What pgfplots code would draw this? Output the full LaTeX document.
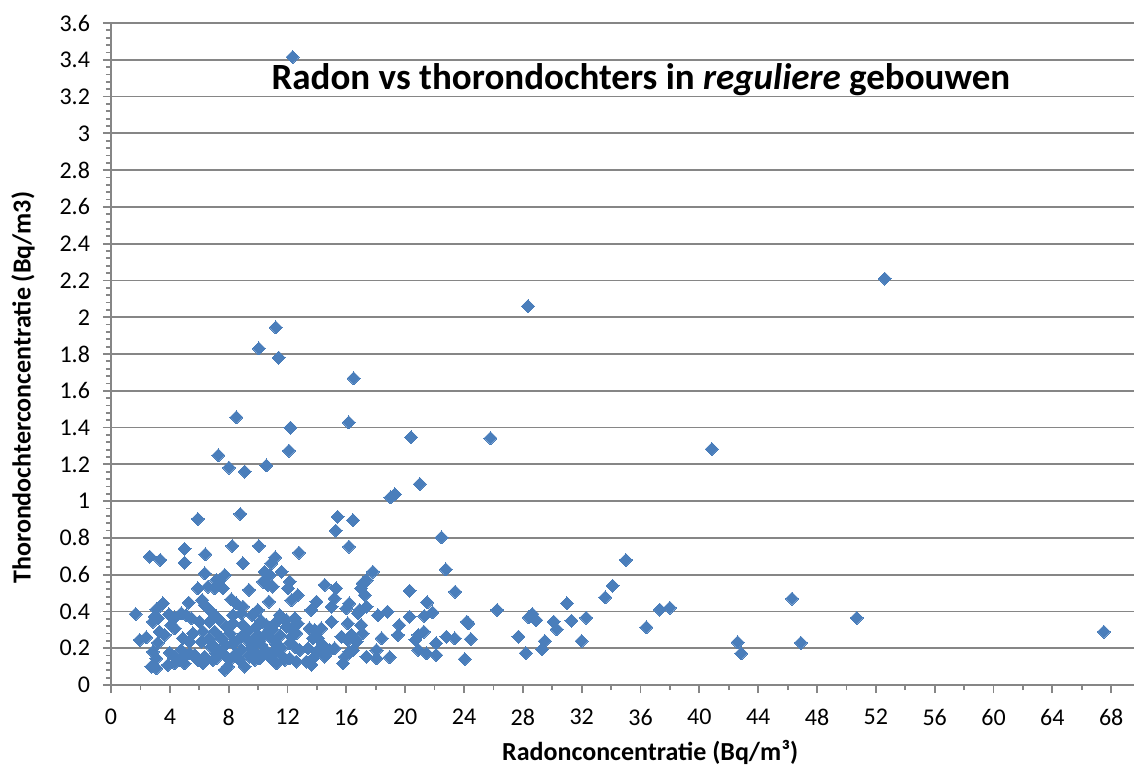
\documentclass[border=0pt]{standalone}
\usepackage{pgfplots}
\pgfplotsset{compat=1.18}
\usepackage{fontspec}
\setmainfont{Carlito}
\definecolor{mk}{HTML}{4A7EBB}
\definecolor{gr}{HTML}{868686}
\begin{document}
\begin{tikzpicture}
\begin{axis}[name=ax, scale only axis, width=511.5pt, height=331pt,
  xmin=0, xmax=69.55, ymin=0, ymax=3.6,
  axis x line*=bottom, axis y line*=left,
  axis line style={gr, line width=0.9pt},
  xtick={0,4,8,12,16,20,24,28,32,36,40,44,48,52,56,60,64,68},
  xticklabels={0,4,8,12,16,20,24,28,32,36,40,44,48,52,56,60,64,68},
  minor x tick num=1,
  ytick={0,0.2,0.4,0.6,0.8,1,1.2,1.4,1.6,1.8,2,2.2,2.4,2.6,2.8,3,3.2,3.4,3.6},
  yticklabels={0,0.2,0.4,0.6,0.8,1,1.2,1.4,1.6,1.8,2,2.2,2.4,2.6,2.8,3,3.2,3.4,3.6},
  minor y tick num=4,
  ymajorgrids, major grid style={gr, line width=0.9pt},
  tick align=outside, major tick length=4pt, minor tick length=2.5pt,
  every tick/.style={gr, line width=0.9pt},
  ticklabel style={font=\fontsize{12}{14}\selectfont, text=black},
  yticklabel style={anchor=east, xshift=-3pt},
  xticklabel style={anchor=center, yshift=-12pt},
  xlabel={\textbf{Radonconcentratie (Bq/m³)}},
  ylabel={\textbf{Thorondochterconcentratie (Bq/m3)}},
  xlabel style={font=\fontsize{13}{15}\selectfont, at={(axis description cs:0.527,0)}, anchor=center, yshift=-33.5pt},
  ylabel style={font=\fontsize{13}{15}\selectfont, at={(axis description cs:-0.086,0.449)}, anchor=center},
  clip=false,
]
\addplot[only marks, color=mk, mark=square*, mark size=2.3pt, mark options={rotate=45, fill=mk, draw=mk, line width=0pt}] table {
x y
2.63 0.698
3.35 0.68
5.0 0.74
5.0 0.665
6.41 0.711
6.37 0.607
5.9 0.526
6.6 0.535
7.16 0.571
6.2 0.462
6.37 0.435
5.28 0.448
3.53 0.444
3.08 0.412
1.67 0.386
2.97 0.371
3.19 0.363
3.94 0.384
4.33 0.368
4.78 0.39
5.12 0.38
5.46 0.363
6.03 0.344
6.7 0.344
2.85 0.344
3.3 0.29
3.65 0.272
4.1 0.326
4.33 0.308
1.95 0.245
2.4 0.259
3.19 0.23
4.89 0.254
5.35 0.235
5.57 0.281
6.25 0.29
6.14 0.235
6.7 0.245
6.8 0.208
7.16 0.172
2.85 0.181
3.08 0.145
2.74 0.1
3.08 0.091
3.99 0.176
4.33 0.154
3.87 0.109
4.33 0.118
4.78 0.19
5.0 0.154
5.35 0.172
4.67 0.136
5.0 0.118
5.69 0.163
5.9 0.136
6.37 0.154
6.25 0.118
6.93 0.136
8.97 0.662
10.9 0.662
10.45 0.616
10.8 0.598
11.6 0.616
7.73 0.598
7.4 0.571
7.05 0.526
7.6 0.526
10.33 0.562
10.67 0.544
11.0 0.535
12.15 0.562
12.03 0.526
12.27 0.462
12.7 0.489
9.38 0.517
8.18 0.466
8.52 0.444
6.7 0.408
6.93 0.39
8.97 0.426
8.86 0.39
9.99 0.408
10.74 0.453
11.47 0.38
11.25 0.344
11.93 0.353
12.5 0.363
12.7 0.335
7.39 0.353
7.84 0.317
8.29 0.335
8.97 0.326
9.31 0.29
8.86 0.263
9.88 0.317
10.56 0.326
10.45 0.272
10.9 0.254
11.93 0.317
12.27 0.263
12.6 0.281
13.5 0.308
13.73 0.254
7.05 0.29
7.5 0.254
8.07 0.281
8.29 0.227
8.63 0.245
9.65 0.218
9.54 0.235
11.25 0.218
11.58 0.2
11.13 0.19
12.15 0.227
12.5 0.208
12.83 0.19
13.4 0.2
13.97 0.181
7.39 0.181
7.73 0.163
7.16 0.145
8.07 0.136
7.95 0.1
7.73 0.082
8.52 0.172
8.75 0.136
9.09 0.1
9.43 0.154
9.77 0.136
10.11 0.145
10.67 0.163
11.0 0.136
11.25 0.118
11.8 0.136
12.15 0.145
12.6 0.127
13.28 0.127
13.63 0.109
7.05 0.208
9.5 0.2
10.2 0.22
10.5 0.19
9.2 0.25
10.0 0.27
11.5 0.27
11.0 0.3
9.6 0.38
10.2 0.35
8.3 0.38
7.8 0.22
8.9 0.19
9.9 0.17
11.6 0.16
12.3 0.3
17.8 0.616
17.1 0.553
17.37 0.571
17.0 0.526
17.25 0.489
14.53 0.544
15.3 0.526
15.2 0.471
15.0 0.426
13.97 0.453
13.6 0.408
16.2 0.444
16.0 0.417
17.37 0.426
16.9 0.408
16.8 0.39
18.15 0.38
18.8 0.399
20.3 0.513
20.3 0.371
19.6 0.326
19.5 0.272
20.9 0.272
15.0 0.344
16.1 0.335
17.0 0.326
17.1 0.281
13.85 0.299
14.3 0.308
14.07 0.254
14.4 0.218
14.2 0.2
15.67 0.263
16.1 0.245
16.35 0.272
16.7 0.235
16.45 0.19
16.2 0.181
18.4 0.254
14.87 0.19
14.53 0.154
15.2 0.2
15.9 0.154
15.78 0.118
17.37 0.154
18.05 0.19
18.05 0.145
18.95 0.151
13.73 0.145
22.76 0.629
23.4 0.507
26.25 0.408
21.5 0.45
21.3 0.375
21.85 0.395
24.2 0.344
24.3 0.335
21.27 0.29
22.8 0.263
23.37 0.254
24.46 0.25
20.7 0.245
20.9 0.19
22.1 0.227
21.45 0.172
22.1 0.163
24.05 0.141
27.7 0.263
28.2 0.174
28.4 0.368
28.65 0.386
28.9 0.353
29.3 0.194
29.5 0.239
30.1 0.344
30.3 0.303
31.0 0.444
31.3 0.35
32.0 0.239
32.3 0.366
33.6 0.477
34.1 0.54
35.0 0.68
36.4 0.314
37.3 0.41
38.0 0.42
42.6 0.232
42.85 0.172
46.9 0.23
46.3 0.47
50.7 0.365
67.5 0.29
8.25 0.756
10.06 0.756
11.17 0.694
12.78 0.72
15.4 0.915
16.45 0.897
15.28 0.839
22.47 0.803
16.18 0.752
5.91 0.903
8.8 0.93
7.3 1.25
12.1 1.274
8.02 1.182
9.09 1.16
10.56 1.194
11.2 1.945
10.06 1.83
11.4 1.78
16.5 1.668
8.52 1.456
16.16 1.428
12.2 1.40
20.4 1.347
21.0 1.093
19.0 1.02
19.3 1.037
25.8 1.343
40.85 1.283
28.35 2.06
52.6 2.21
12.35 3.415
};
\node[font=\fontsize{18.5}{22}\selectfont\bfseries] at (axis description cs:0.518,0.914) {Radon vs thorondochters in \textit{reguliere} gebouwen};
\end{axis}
\pgfresetboundingbox
\useasboundingbox ([shift={(-55.5pt,-43pt)}]ax.south west) rectangle ([shift={(0pt,11.5pt)}]ax.north east);
\end{tikzpicture}
\end{document}
